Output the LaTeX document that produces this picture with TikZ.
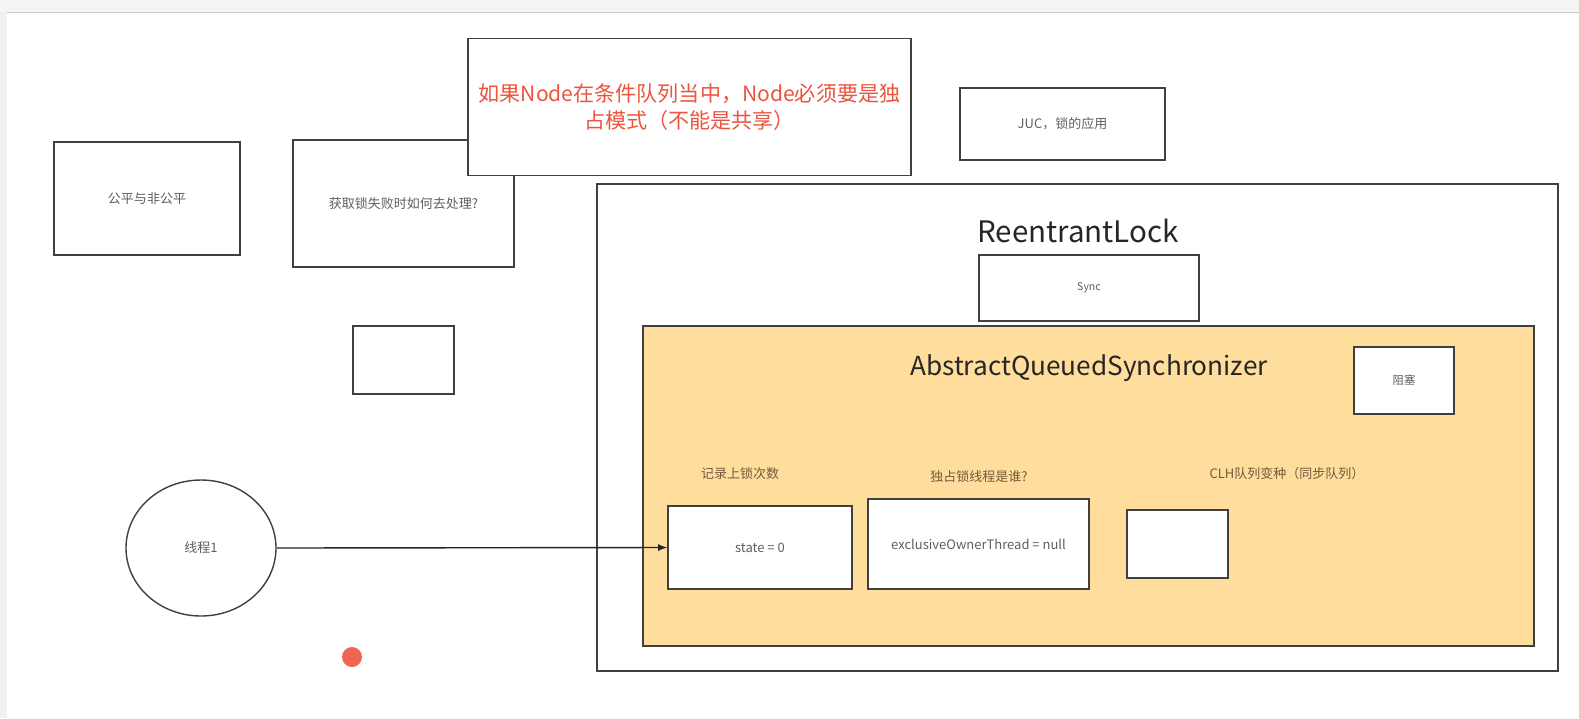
\documentclass[tikz,border=0pt]{standalone}
\usepackage{fontspec}
\usetikzlibrary{shapes.geometric}
\setmainfont{Noto Sans CJK SC}
\definecolor{aqsfill}{RGB}{255,221,156}
\definecolor{notered}{RGB}{236,84,62}
\definecolor{boxtext}{RGB}{95,95,95}
\definecolor{labeltext}{RGB}{115,90,60}
\tikzset{
  box/.style 2 args={draw=black!75, line width=0.8pt, fill=white,
    minimum width={#1*0.02cm}, minimum height={#2*0.02cm}, inner sep=0pt,
    text=boxtext, font=\fontsize{7.4}{9}\selectfont},
  bigtitle/.style={font=\fontsize{16.8}{18}\selectfont, text=black!85},
  aqslabel/.style={font=\fontsize{7.4}{9}\selectfont, text=labeltext}
}
\begin{document}
\begin{tikzpicture}[x=0.02cm,y=-0.02cm]
\useasboundingbox (0,0) rectangle (1579,718);
% window edges
\fill[black!4] (0,0) rectangle (1579,12);
\draw[black!20] (0,12) -- (1579,12);
\fill[black!6] (0,12) rectangle (7,718);

% boxes on the left
\node[box={186}{113}] (fair) at (147,198.5) {公平与非公平};
\node[box={221}{127}] (fail) at (403.5,203.5) {获取锁失败时如何去处理?};
\node[box={101}{68}] (empty) at (403.5,360) {};

% notes on top
\node[box={443}{137}, text=notered, align=center, font=\fontsize{12}{15}\selectfont] (note) at (689.5,107)
  {如果Node在条件队列当中，Node必须要是独\\占模式（不能是共享）};
\node[box={205}{72}] (juc) at (1062.5,124) {JUC，锁的应用};

% ReentrantLock
\node[box={961}{487}] (lock) at (1077.5,427.5) {};
\node[bigtitle] (locktitle) at (1078,231) {ReentrantLock};
\node[box={220}{66}, font=\fontsize{6}{7}\selectfont] (sync) at (1089,288) {Sync};

% AQS
\node[box={891}{320}, fill=aqsfill] (aqs) at (1088.5,486) {};
\node[bigtitle, font=\fontsize{14.9}{17}\selectfont] (aqstitle) at (1089,368) {AbstractQueuedSynchronizer};
\node[box={100}{67}, font=\fontsize{6.5}{8}\selectfont] (block) at (1404,380.5) {阻塞};

\foreach \name/\x/\y/\txt in {statelbl/740/474/记录上锁次数, ownerlbl/979/477/独占锁线程是谁?, clhlbl/1287/474/CLH队列变种（同步队列）}
\node[aqslabel] (\name) at (\x,\y) {\txt};

\node[box={184}{83}] (state) at (760,547.5) {state = 0};
\node[box={221}{90}] (owner) at (978.5,544) {exclusiveOwnerThread = null};
\node[box={101}{68}] (clh) at (1177.5,544) {};

% thread
\node[box={150}{136}, ellipse] (thread) at (201,548) {线程1};
\draw[-latex, line width=0.8pt, black!85] (thread.east) -- (state.west);

\fill[notered!90] (352,657) circle (10);
\end{tikzpicture}
\end{document}
